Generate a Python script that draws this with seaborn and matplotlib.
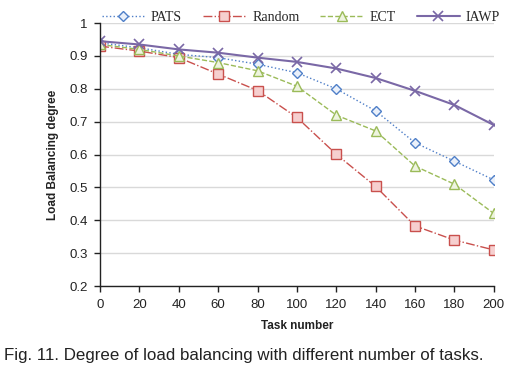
import numpy as np
import pandas as pd
import seaborn as sns
import matplotlib.pyplot as plt

tasks = [0, 20, 40, 60, 80, 100, 120, 140, 160, 180, 200]
pats = [0.94, 0.925, 0.905, 0.895, 0.875, 0.849, 0.80, 0.733, 0.636, 0.58, 0.523]
random_ = [0.93, 0.915, 0.895, 0.845, 0.795, 0.713, 0.601, 0.503, 0.383, 0.34, 0.31]
ect = [0.935, 0.92, 0.90, 0.88, 0.855, 0.808, 0.72, 0.672, 0.565, 0.51, 0.421]
iawp = [0.945, 0.935, 0.92, 0.91, 0.895, 0.882, 0.862, 0.833, 0.794, 0.751, 0.69]

series = {'PATS': pats, 'Random': random_, 'ECT': ect, 'IAWP': iawp}
styles = {
    'PATS': dict(color='#4F7FC8', ls=':', marker='D', ms=5, mfc='#EAF0FA', lw=1.0),
    'Random': dict(color='#C9504D', ls='-.', marker='s', ms=6.5, mfc='#F6CFCF', lw=1.0),
    'ECT': dict(color='#9BBB59', ls='--', marker='^', ms=7, mfc='#EEF4DF', lw=1.0),
    'IAWP': dict(color='#7A68A6', ls='-', marker='x', ms=7, mew=1.2, lw=1.5),
}

sns.set_theme(style='white')
plt.rcParams['font.family'] = ['Liberation Sans', 'DejaVu Sans']

fig = plt.figure(figsize=(5.08, 3.73), dpi=100)
ax = fig.add_axes([0.197, 0.233, 0.775, 0.705])

for name, vals in series.items():
    df = pd.DataFrame({'Task number': tasks, 'degree': vals})
    st = styles[name]
    sns.lineplot(data=df, x='Task number', y='degree', ax=ax, label=name,
                 color=st['color'], linestyle=st['ls'], linewidth=st['lw'],
                 marker=st['marker'], markersize=st['ms'],
                 markerfacecolor=st.get('mfc', st['color']),
                 markeredgecolor=st['color'], markeredgewidth=st.get('mew', 1.0))

ax.set_xlim(0, 200)
ax.set_ylim(0.2, 1.0)
ax.set_xticks(tasks)
ax.set_yticks(np.round(np.arange(0.2, 1.01, 0.1), 1))
ax.set_yticklabels(['0.2', '0.3', '0.4', '0.5', '0.6', '0.7', '0.8', '0.9', '1'])
ax.yaxis.grid(True, color='#D9D9D9', lw=1.0)
ax.xaxis.grid(False)
for s in ['top', 'right']:
    ax.spines[s].set_visible(False)
for s in ['left', 'bottom']:
    ax.spines[s].set_color('#222222')
    ax.spines[s].set_linewidth(1.0)
ax.tick_params(axis='both', which='both', direction='out', length=4, width=1,
               color='#222222', labelsize=9.5, labelcolor='#222222',
               bottom=True, left=True, pad=5)
ax.set_xlabel('Task number', fontsize=8.5, fontweight='bold', color='#222222', labelpad=7)
ax.set_ylabel('Load Balancing degree', fontsize=8.5, fontweight='bold', color='#222222', labelpad=7)

ax.legend(loc='lower center', bbox_to_anchor=(0.51, 0.985), ncol=4, frameon=False,
          prop={'family': 'Liberation Serif', 'size': 10}, handlelength=3.1,
          columnspacing=1.5, handletextpad=0.45, borderaxespad=0.0, borderpad=0.2)

fig.text(0.008, 0.035, 'Fig. 11. Degree of load balancing with different number of tasks.',
         fontsize=12.2, color='#222222')

fig.savefig('out.png', dpi=100)
